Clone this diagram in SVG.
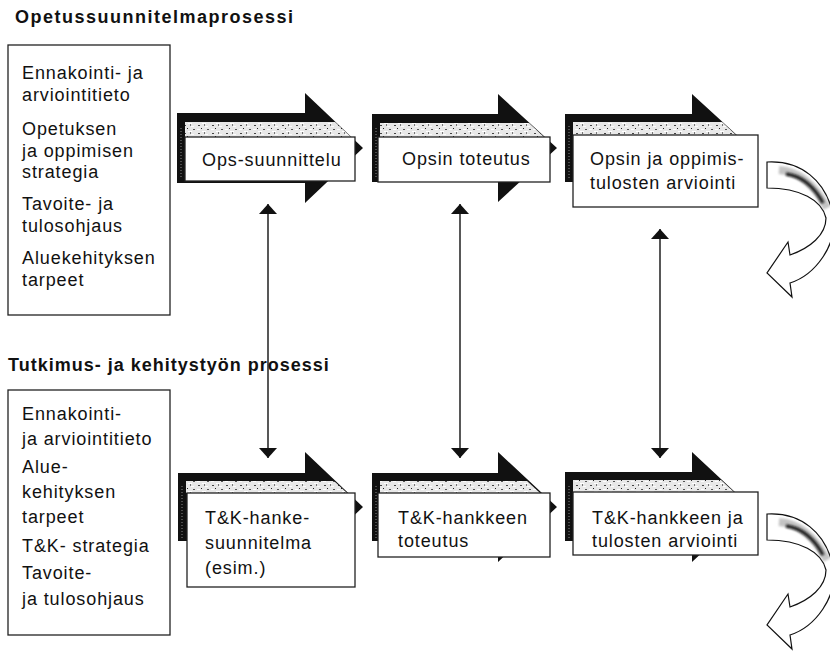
<svg xmlns="http://www.w3.org/2000/svg" width="830" height="654" viewBox="0 0 830 654">
<style>
  .title { font-family: "Liberation Sans", Arial, sans-serif; font-weight: bold; font-size: 18px; letter-spacing: 1.5px; fill: #111; }
  .title2 { letter-spacing: 1.0px; }
  .txt { font-family: "Liberation Sans", Arial, sans-serif; font-size: 18px; letter-spacing: 0.9px; fill: #111; }
  .panel { fill: #fff; stroke: #222; stroke-width: 1.3; }
  .arrowbody { fill: #111; }
  .card { fill: #fff; stroke: #222; stroke-width: 1.3; }
  .tex { fill: url(#speck); }
  .edge { stroke: #888; stroke-width: 1; stroke-dasharray: 1 2; fill: none; }
  .link { stroke: #111; stroke-width: 1.4; fill: none; marker-start: url(#head); marker-end: url(#head); }
  .curl { fill: #fff; stroke: #111; stroke-width: 1.2; stroke-linejoin: miter; }
  .streak { fill: none; filter: url(#soft); }
</style>
<defs>
  <pattern id="speck" width="14" height="8" patternUnits="userSpaceOnUse">
    <rect width="14" height="8" fill="#e8e8e8"/>
    <rect x="1" y="1" width="3" height="1" fill="#fdfdfd"/>
    <rect x="6" y="3" width="4" height="1" fill="#ffffff"/>
    <rect x="2" y="5" width="2" height="1" fill="#444"/>
    <rect x="9" y="6" width="3" height="1" fill="#fbfbfb"/>
    <rect x="11" y="1" width="2" height="1" fill="#555"/>
    <rect x="5" y="0" width="1" height="1" fill="#222"/>
    <rect x="8" y="4" width="1" height="2" fill="#777"/>
  </pattern>
  <filter id="soft" x="-20%" y="-20%" width="140%" height="140%">
    <feGaussianBlur stdDeviation="1.2"/>
  </filter>
  <marker id="head" viewBox="0 0 10 18" refX="10" refY="9" markerWidth="10" markerHeight="18" orient="auto-start-reverse" markerUnits="userSpaceOnUse" preserveAspectRatio="none">
    <path d="M0,0 L10,9 L0,18 Z" fill="#111"/>
  </marker>
  <path id="curlshape" d="M767,162 C800,160 826,180 833,215 C838,245 815,275 790,283 L792,297 L767,273 L788,242 L790,255 C810,248 826,235 826,218 C822,200 800,188 767,188 Z"/>
</defs>

<rect width="830" height="654" fill="#fff"/>

<g id="titles">
  <text class="title" x="15" y="23">Opetussuunnitelmaprosessi</text>
  <text class="title title2" x="8" y="371">Tutkimus- ja kehitystyön prosessi</text>
</g>

<g id="inputs-ops">
  <rect class="panel" x="8" y="45" width="162" height="270"/>
  <text class="txt" x="22" y="79">Ennakointi- ja</text>
  <text class="txt" x="22" y="101">arviointitieto</text>
  <text class="txt" x="22" y="135">Opetuksen</text>
  <text class="txt" x="22" y="157">ja oppimisen</text>
  <text class="txt" x="22" y="178">strategia</text>
  <text class="txt" x="22" y="210">Tavoite- ja</text>
  <text class="txt" x="22" y="232">tulosohjaus</text>
  <text class="txt" x="22" y="264">Aluekehityksen</text>
  <text class="txt" x="22" y="286">tarpeet</text>
</g>

<g id="inputs-tk">
  <rect class="panel" x="8" y="390" width="162" height="245"/>
  <text class="txt" x="22" y="420">Ennakointi-</text>
  <text class="txt" x="22" y="445">ja arviointitieto</text>
  <text class="txt" x="22" y="473">Alue-</text>
  <text class="txt" x="22" y="498">kehityksen</text>
  <text class="txt" x="22" y="523">tarpeet</text>
  <text class="txt" x="22" y="552">T&amp;K- strategia</text>
  <text class="txt" x="22" y="579">Tavoite-</text>
  <text class="txt" x="22" y="605">ja tulosohjaus</text>
</g>

<g id="connectors">
  <line class="link" x1="268" y1="204" x2="268" y2="458"/>
  <line class="link" x1="460" y1="204" x2="460" y2="458"/>
  <line class="link" x1="660" y1="229" x2="660" y2="458"/>
  <g id="curl-ops">
    <use href="#curlshape" class="curl"/>
    <path class="streak" d="M779,170 Q808,172 827,208" stroke="#888" stroke-width="8" opacity="0.5"/>
    <path class="streak" d="M786,174 Q809,177 823,203" stroke="#111" stroke-width="3.5" opacity="0.9"/>
  </g>
  <g id="curl-tk">
    <use href="#curlshape" class="curl" transform="translate(0,352)"/>
    <path class="streak" d="M779,522 Q808,524 827,560" stroke="#888" stroke-width="8" opacity="0.5"/>
    <path class="streak" d="M786,526 Q809,529 823,555" stroke="#111" stroke-width="3.5" opacity="0.9"/>
  </g>
</g>

<g id="ops-suunnittelu">
  <polygon class="arrowbody" points="177,113 305,113 305,93 363,148 305,203 305,183 177,183"/>
  <polygon class="tex" points="185,122 335,122 351,137 185,137"/>
  <line class="edge" x1="181" y1="128" x2="181" y2="178"/>
  <rect class="card" x="185" y="137" width="170" height="44"/>
  <text class="txt" x="202" y="166">Ops-suunnittelu</text>
</g>

<g id="opsin-toteutus">
  <polygon class="arrowbody" points="372,114 498,114 498,94 557,148 498,202 498,182 372,182"/>
  <polygon class="tex" points="380,123 529,123 544,137 380,137"/>
  <line class="edge" x1="376" y1="128" x2="376" y2="178"/>
  <rect class="card" x="378" y="137" width="172" height="45"/>
  <text class="txt" x="402" y="165">Opsin toteutus</text>
</g>

<g id="opsin-arviointi">
  <polygon class="arrowbody" points="565,114 692,114 692,94 751,148 692,202 692,182 565,182"/>
  <polygon class="tex" points="573,122 722,122 736,135 573,135"/>
  <line class="edge" x1="569" y1="126" x2="569" y2="178"/>
  <rect class="card" x="573" y="135" width="185" height="72"/>
  <text class="txt" x="590" y="165">Opsin ja oppimis-</text>
  <text class="txt" x="590" y="189">tulosten arviointi</text>
</g>

<g id="tk-suunnitelma">
  <polygon class="arrowbody" points="178,473 305,473 305,452 363,507 305,562 305,541 178,541"/>
  <polygon class="tex" points="186,481 334,481 347,493 186,493"/>
  <line class="edge" x1="182" y1="486" x2="182" y2="538"/>
  <rect class="card" x="187" y="493" width="168" height="94"/>
  <text class="txt" x="205" y="524">T&amp;K-hanke-</text>
  <text class="txt" x="205" y="549">suunnitelma</text>
  <text class="txt" x="205" y="574">(esim.)</text>
</g>

<g id="tk-toteutus">
  <polygon class="arrowbody" points="372,473 498,473 498,452 557,507 498,562 498,541 372,541"/>
  <polygon class="tex" points="380,481 527,481 540,493 380,493"/>
  <line class="edge" x1="376" y1="486" x2="376" y2="538"/>
  <rect class="card" x="378" y="493" width="172" height="64"/>
  <text class="txt" x="398" y="524">T&amp;K-hankkeen</text>
  <text class="txt" x="398" y="547">toteutus</text>
</g>

<g id="tk-arviointi">
  <polygon class="arrowbody" points="565,472 692,472 692,452 751,507 692,562 692,541 565,541"/>
  <polygon class="tex" points="573,480 721,480 734,492 573,492"/>
  <line class="edge" x1="569" y1="486" x2="569" y2="538"/>
  <rect class="card" x="573" y="492" width="185" height="63"/>
  <text class="txt" x="592" y="524">T&amp;K-hankkeen ja</text>
  <text class="txt" x="592" y="547">tulosten arviointi</text>
</g>
</svg>
